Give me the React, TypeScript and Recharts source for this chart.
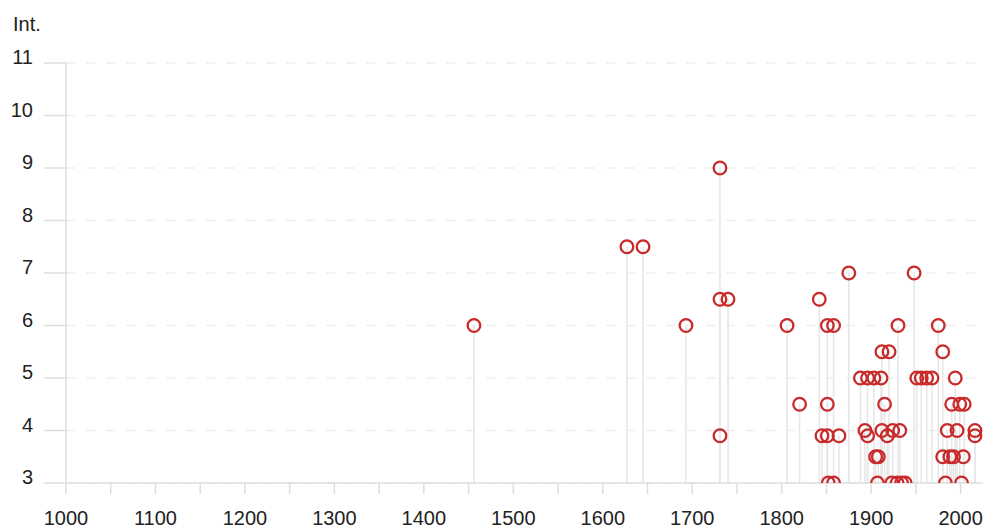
import { ScatterChart, Scatter, XAxis, YAxis, CartesianGrid, ErrorBar } from 'recharts';

const FONT = "'Liberation Sans', Arial, sans-serif";
const RED = '#c92a2a';
const STEM = '#e6e6e6';
const AXIS = '#dedede';

// event year and intensity, read pairwise
const years = [
  1456, 1627, 1645, 1693, 1731, 1731, 1740, 1731, 1806, 1820,
  1842, 1845, 1851, 1864, 1851, 1858, 1851, 1852, 1858, 1875,
  1888, 1896, 1903, 1911, 1893, 1896, 1905, 1908, 1907, 1912,
  1920, 1915, 1912, 1918, 1924, 1932, 1923, 1929, 1934, 1938,
  1930, 1948, 1951, 1956, 1962, 1968, 1975, 1980, 1994, 1990,
  1999, 2004, 1985, 1996, 2016, 2016, 1980, 1988, 1992, 2003,
  1983, 2001,
];
const intensities = [
  6, 7.5, 7.5, 6, 9, 6.5, 6.5, 3.9, 6, 4.5,
  6.5, 3.9, 3.9, 3.9, 6, 6, 4.5, 3, 3, 7,
  5, 5, 5, 5, 4, 3.9, 3.5, 3.5, 3, 5.5,
  5.5, 4.5, 4, 3.9, 4, 4, 3, 3, 3, 3,
  6, 7, 5, 5, 5, 5, 6, 5.5, 5, 4.5,
  4.5, 4.5, 4, 4, 4, 3.9, 3.5, 3.5, 3.5, 3.5,
  3, 3,
];

const yTicks = [3, 4, 5, 6, 7, 8, 9, 10, 11];
const xTicks = [
  1000, 1050, 1100, 1150, 1200, 1250, 1300, 1350, 1400, 1450, 1500,
  1550, 1600, 1650, 1700, 1750, 1800, 1850, 1900, 1950, 2000,
];
const BASE = 3;

const points = years.map((year, i) => ({
  year,
  int: intensities[i],
  // stem runs from the marker down to the baseline
  stem: [intensities[i] - BASE, 0],
}));

const Ring = (props: any) => (
  <circle cx={props.cx} cy={props.cy} r={6.3} fill="none" stroke={RED} strokeWidth={2.3} />
);

const App = () => (
  <div style={{ position: 'absolute', left: 0, top: 0, width: 989, height: 530, background: '#fff', fontFamily: FONT }}>
    <div style={{ position: 'absolute', left: 13, top: 13, fontSize: 20, color: '#222' }}>Int.</div>
    <ScatterChart width={989} height={530} margin={{ top: 63, right: 6, bottom: 0, left: 0 }}>
      <CartesianGrid vertical={false} stroke="#efefef" strokeDasharray="9 11" strokeWidth={1.5} />
      <XAxis
        type="number"
        dataKey="year"
        domain={[1000, 2025]}
        ticks={xTicks}
        interval={0}
        tickFormatter={(v: number) => (v % 100 === 0 ? String(v) : '')}
        height={47}
        tickSize={11}
        tickMargin={17}
        axisLine={{ stroke: AXIS, strokeWidth: 1.5 }}
        tickLine={{ stroke: AXIS, strokeWidth: 1.5 }}
        tick={{ fill: '#222', fontSize: 20, fontFamily: FONT }}
      />
      <YAxis
        type="number"
        dataKey="int"
        domain={[3, 11]}
        ticks={yTicks}
        interval={0}
        width={66}
        tickSize={22}
        tickMargin={11}
        allowDataOverflow
        axisLine={{ stroke: AXIS, strokeWidth: 1.5 }}
        tickLine={{ stroke: AXIS, strokeWidth: 1.5 }}
        tick={{ fill: '#222', fontSize: 20, fontFamily: FONT, dy: -6 }}
      />
      <Scatter data={points} shape={Ring} isAnimationActive={false}>
        <ErrorBar dataKey="stem" direction="y" width={0} stroke={STEM} strokeWidth={1.5} isAnimationActive={false} />
      </Scatter>
    </ScatterChart>
  </div>
);

export default App;
